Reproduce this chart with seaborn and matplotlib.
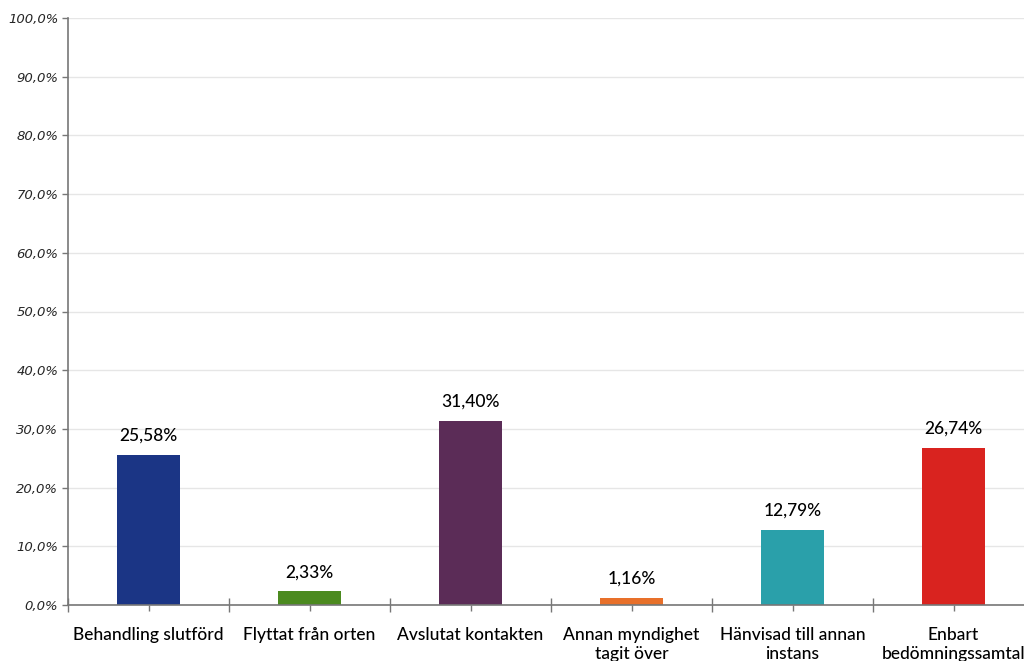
import matplotlib
matplotlib.use("Agg")
import matplotlib.pyplot as plt
import seaborn as sns
import pandas as pd
from matplotlib.ticker import FixedLocator, FuncFormatter

categories = ["Behandling slutförd", "Flyttat från orten", "Avslutat kontakten",
              "Annan myndighet\ntagit över", "Hänvisad till annan\ninstans", "Enbart\nbedömningssamtal"]
values = [25.58, 2.33, 31.40, 1.16, 12.79, 26.74]
colors = ["#1b3585", "#4b8a1f", "#5b2c57", "#e8702a", "#2aa0aa", "#d9231f"]
yticks = [0, 10, 20, 30, 40, 50, 60, 70, 80, 90, 100]

sns.set_theme(style="white")
plt.rcParams['font.family'] = ['Lato', 'DejaVu Sans']

df = pd.DataFrame({"cat": categories, "val": values})
fig = plt.figure(figsize=(10.24, 6.61), dpi=100)
ax = fig.add_axes([68/1024, 1-605/661, 6*161/1024, (605-18)/661])
sns.barplot(data=df, x="cat", y="val", hue="cat", palette=colors, legend=False,
            width=0.39, saturation=1, ax=ax, linewidth=0)
ax.set_xlim(-0.5, 5.5)
ax.set_ylim(0, 100)
ax.set_yticks(yticks)
ax.yaxis.set_major_formatter(FuncFormatter(lambda v, p: f"{v:.1f}%".replace(".", ",")))
for lab in ax.get_yticklabels():
    lab.set_fontstyle("italic")
    lab.set_family("DejaVu Sans")
ax.tick_params(axis="y", labelsize=9.5, length=4, width=1, color="#777777", direction="out", left=True, pad=3)
ax.grid(axis="y", color="#e6e6e6", linewidth=1)
ax.set_axisbelow(True)
for s in ["top", "right"]:
    ax.spines[s].set_visible(False)
for s in ["left", "bottom"]:
    ax.spines[s].set_color("#777777")
    ax.spines[s].set_linewidth(1.2)
ax.set_xlabel("")
ax.set_ylabel("")
ax.set_xticks(range(len(categories)))
ax.set_xticklabels(categories, fontsize=12.5, color="black", linespacing=1.25, fontweight="medium")
ax.tick_params(axis="x", length=4, width=1, color="#777777", bottom=True, pad=12)
ax.xaxis.set_minor_locator(FixedLocator([i + 0.5 for i in range(-1, 6)]))
ax.tick_params(axis="x", which="minor", length=10, width=1, color="#777777", direction="inout", bottom=True)
for i, v in enumerate(values):
    ax.annotate(f"{v:.2f}%".replace(".", ","), (i, v), xytext=(0, 8), textcoords="offset points",
                ha="center", va="bottom", fontsize=12.5, color="black", fontweight="medium")
fig.savefig("out.png", dpi=100)
